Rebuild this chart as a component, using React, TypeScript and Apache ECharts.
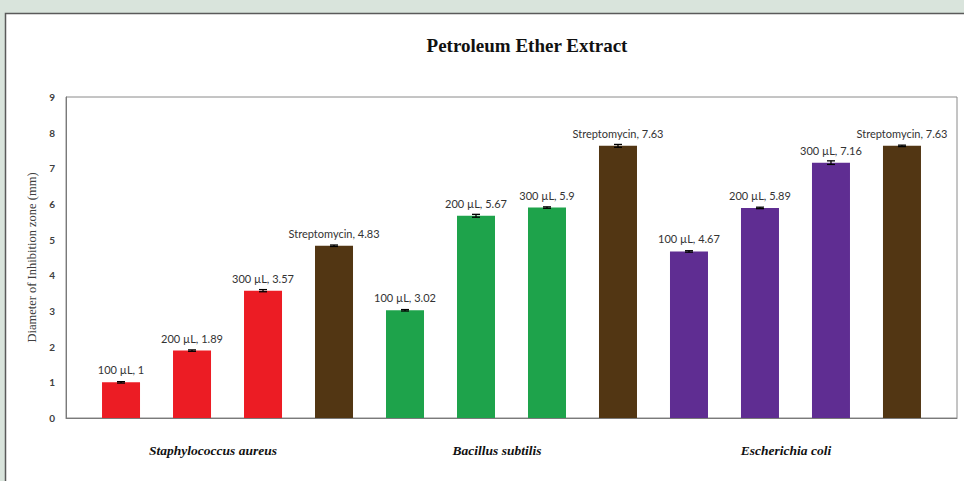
import React, { useEffect, useRef } from "react";
import * as echarts from "echarts";

const species = ["Staphylococcus aureus", "Bacillus subtilis", "Escherichia coli"];
const treatments = [
  "100 µL", "200 µL", "300 µL", "Streptomycin",
  "100 µL", "200 µL", "300 µL", "Streptomycin",
  "100 µL", "200 µL", "300 µL", "Streptomycin",
];
const values = [1, 1.89, 3.57, 4.83, 3.02, 5.67, 5.9, 7.63, 4.67, 5.89, 7.16, 7.63];
const errors = [0.02, 0.02, 0.03, 0.02, 0.02, 0.04, 0.02, 0.04, 0.02, 0.02, 0.05, 0.02];
const yTicks = [0, 1, 2, 3, 4, 5, 6, 7, 8, 9];

const groupColors = ["#ec1c24", "#1ea34b", "#5f2d92"];
const strepColor = "#523613";
const speciesLabelX = [213, 497, 786];

export default function App() {
  const ref = useRef<HTMLDivElement>(null);
  useEffect(() => {
    if (!ref.current) return;
    const chart = echarts.init(ref.current, undefined, { renderer: "svg" });
    const barData = values.map((v, i) => {
      const g = Math.floor(i / 4);
      const color = treatments[i] === "Streptomycin" ? strepColor : groupColors[g];
      return { value: [i, v], itemStyle: { color } };
    });
    chart.setOption({
      animation: false,
      backgroundColor: "#d9e4dc",
      grid: {
        left: 66,
        right: 7,
        top: 97,
        bottom: 63,
        show: true,
        borderColor: "#8a8a8a",
        borderWidth: 1,
        backgroundColor: "transparent",
      },
      xAxis: {
        type: "value",
        min: -0.775,
        max: 11.775,
        axisLine: { show: true, onZero: false, lineStyle: { color: "#7a7a7a", width: 1 } },
        axisTick: { show: false },
        axisLabel: { show: false },
        splitLine: { show: false },
      },
      yAxis: {
        type: "value",
        min: yTicks[0],
        max: yTicks[yTicks.length - 1],
        interval: 1,
        name: "Diameter of Inhibition zone (mm)",
        nameLocation: "middle",
        nameGap: 24,
        nameTextStyle: { fontFamily: "Liberation Serif", fontSize: 12.5, color: "#404040" },
        axisLine: { show: true, onZero: false, lineStyle: { color: "#7a7a7a", width: 1 } },
        axisTick: { show: false },
        axisLabel: {
          fontFamily: "Lato",
          fontWeight: "bold",
          fontSize: 10,
          color: "#404040",
          margin: 11,
        },
        splitLine: { show: false },
      },
      graphic: [
        {
          type: "rect",
          z: -10,
          silent: true,
          shape: { x: 5.5, y: 13.5, width: 980, height: 480 },
          style: { fill: "#ffffff", stroke: "#5a5a5a", lineWidth: 1.5 },
        },
        {
          type: "text",
          x: 527,
          y: 45,
          style: {
            text: "Petroleum Ether Extract",
            font: "bold 19px 'Liberation Serif'",
            fill: "#111111",
            align: "center",
            verticalAlign: "middle",
          },
        },
        ...species.map((s, i) => ({
          type: "text",
          x: speciesLabelX[i],
          y: 450,
          style: {
            text: s,
            font: "italic bold 13.5px 'Liberation Serif'",
            fill: "#111111",
            align: "center",
            verticalAlign: "middle",
          },
        })),
      ],
      series: [
        {
          type: "bar",
          barWidth: 38,
          data: barData,
          label: {
            show: true,
            position: "top",
            distance: 7,
            fontFamily: "Lato",
            fontSize: 11,
            color: "#333333",
            formatter: (p: any) => `${treatments[p.dataIndex]}, ${values[p.dataIndex]}`,
          },
        },
        {
          type: "custom",
          z: 5,
          data: values.map((v, i) => [i, v, errors[i]]),
          encode: { x: 0, y: 1 },
          renderItem: (params: any, api: any) => {
            const x = api.value(0);
            const y = api.value(1);
            const e = api.value(2);
            const top = api.coord([x, y + e]);
            const bot = api.coord([x, y - e]);
            const hw = 4;
            const st = { stroke: "#000000", lineWidth: 1.3 };
            return {
              type: "group",
              children: [
                { type: "line", shape: { x1: top[0], y1: top[1], x2: bot[0], y2: bot[1] }, style: st },
                { type: "line", shape: { x1: top[0] - hw, y1: top[1], x2: top[0] + hw, y2: top[1] }, style: st },
                { type: "line", shape: { x1: bot[0] - hw, y1: bot[1], x2: bot[0] + hw, y2: bot[1] }, style: st },
              ],
            };
          },
        },
      ],
    });
    return () => chart.dispose();
  }, []);
  return (
    <div
      ref={ref}
      style={{ position: "fixed", left: 0, top: 0, width: 964, height: 481 }}
    />
  );
}
